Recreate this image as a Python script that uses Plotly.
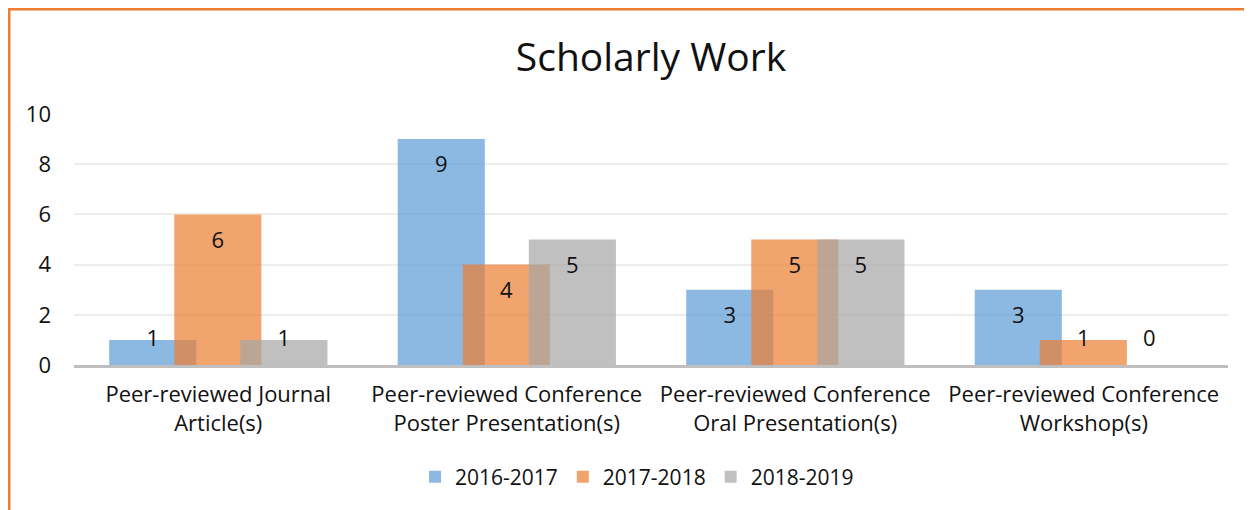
import plotly.graph_objects as go

categories = [
    "Peer-reviewed Journal<br>Article(s)",
    "Peer-reviewed Conference<br>Poster Presentation(s)",
    "Peer-reviewed Conference<br>Oral Presentation(s)",
    "Peer-reviewed Conference<br>Workshop(s)",
]
series_names = ["2016-2017", "2017-2018", "2018-2019"]
values_2016_2017 = [1, 9, 3, 3]
values_2017_2018 = [6, 4, 5, 1]
values_2018_2019 = [1, 5, 5, 0]
y_ticks = [0, 2, 4, 6, 8, 10]

series_values = [values_2016_2017, values_2017_2018, values_2018_2019]
colors = ["rgba(91,155,213,0.7)", "rgba(237,125,49,0.7)", "rgba(165,165,165,0.7)"]

# page body has an 8px margin; lay out in reference pixel coords minus that
PAGE = 8
W, H = 1252 - PAGE, 510 - PAGE
L, R, T = 74 - PAGE, 24, 114 - PAGE
plot_bottom = 365 - PAGE
B = H - plot_bottom
pw, ph = W - L - R, H - T - B

bar_w = 0.302
offsets = [-0.378, -0.1525, 0.0765]
FONT = "Open Sans"
TXT = "#111111"
FS = 22

fig = go.Figure()
xs = list(range(len(categories)))
for name, vals, col, off in zip(series_names, series_values, colors, offsets):
    fig.add_trace(go.Bar(
        x=xs, y=vals, name=name, offset=off, width=bar_w,
        marker=dict(color=col, line=dict(width=0)),
    ))
for name, vals, off in zip(series_names, series_values, offsets):
    fig.add_trace(go.Scatter(
        x=[i + off + bar_w / 2 for i in xs],
        y=[max(v - 1.1, 0.98) for v in vals],
        text=[str(v) for v in vals], mode="text",
        textfont=dict(family=FONT, size=FS, color=TXT),
        showlegend=False, hoverinfo="skip",
    ))

fig.update_layout(
    width=W, height=H,
    margin=dict(l=L, r=R, t=T, b=B),
    barmode="overlay",
    paper_bgcolor="white", plot_bgcolor="white",
    font=dict(family=FONT, size=FS, color=TXT),
    title=dict(text="Scholarly Work", x=0.5, xanchor="center", xref="paper",
               y=1 - (57 - PAGE) / H, yanchor="middle",
               font=dict(family=FONT, size=39, color=TXT)),
    showlegend=True,
    legend=dict(orientation="h", x=0.5 - 14 / pw, xanchor="center",
                y=(365 - 477) / ph, yanchor="middle",
                font=dict(family=FONT, size=21, color=TXT),
                itemwidth=30, traceorder="normal"),
    xaxis=dict(range=[-0.5, 3.5], tickvals=xs, ticktext=categories,
               showgrid=False, zeroline=False, showline=True,
               linecolor="#BFBFBF", linewidth=2.5, ticks="",
               ticklabelstandoff=8,
               tickfont=dict(family=FONT, size=FS, color=TXT)),
    yaxis=dict(range=[0, 10], tickvals=y_ticks, showgrid=True,
               gridcolor="#EDEDED", gridwidth=1.5, zeroline=False,
               ticks="", ticklabelstandoff=22,
               tickfont=dict(family=FONT, size=FS, color=TXT)),
    shapes=[dict(type="rect", xref="paper", yref="paper",
                 x0=(9 - 74) / pw, x1=1.2, y0=-1.0, y1=(365 - 9) / ph,
                 line=dict(color="#ED7D31", width=3), fillcolor="rgba(0,0,0,0)",
                 layer="below")],
)

fig.write_html("out.html")
